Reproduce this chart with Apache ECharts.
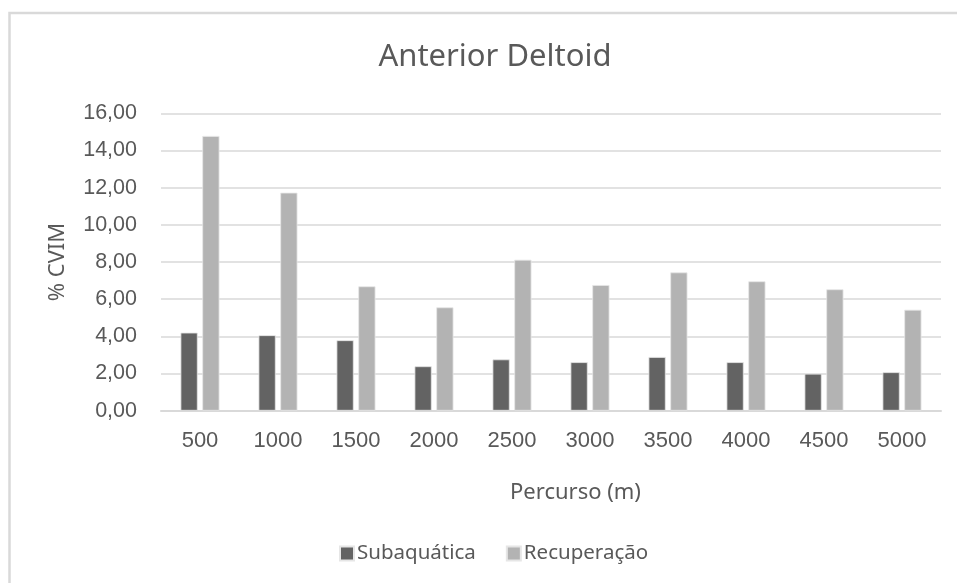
<!DOCTYPE html>
<html>
<head>
<meta charset="utf-8">
<script src="https://cdn.jsdelivr.net/npm/echarts@6/dist/echarts.min.js"></script>
<style>
  html, body { margin: 0; padding: 0; background: #ffffff; }
  #chart { width: 957px; height: 583px; }
</style>
</head>
<body>
<div id="chart"></div>
<script>
// Distance covered (m)
const distances = ['500', '1000', '1500', '2000', '2500', '3000', '3500', '4000', '4500', '5000'];
// %CVIM of the anterior deltoid per phase
const subaquatica = [4.20, 4.06, 3.79, 2.39, 2.76, 2.61, 2.89, 2.61, 1.99, 2.07];
const recuperacao = [14.78, 11.73, 6.69, 5.56, 8.12, 6.76, 7.44, 6.96, 6.53, 5.43];
const seriesNames = ['Subaquática', 'Recuperação'];

const textColor = '#595959';
const gridColor = '#d9d9d9';
const uiFont = '"Noto Sans", "Open Sans", sans-serif';
const numFont = '"Liberation Sans", Arial, sans-serif';

const chart = echarts.init(document.getElementById('chart'), null, { renderer: 'canvas' });

chart.setOption({
  animation: false,
  backgroundColor: '#ffffff',
  graphic: [{
    type: 'rect',
    shape: { x: 9.5, y: 13, width: 980, height: 600 },
    style: { fill: 'none', stroke: gridColor, lineWidth: 2.5 },
    silent: true,
    z: -1
  }],
  title: {
    text: 'Anterior Deltoid',
    left: 490,
    textAlign: 'center',
    top: 37,
    textStyle: { fontFamily: uiFont, fontSize: 31, fontWeight: 'normal', color: textColor }
  },
  legend: {
    data: seriesNames,
    top: 543,
    left: 339,
    padding: 0,
    itemWidth: 14,
    itemHeight: 14,
    itemGap: 30,
    icon: 'rect',
    textStyle: { fontFamily: uiFont, fontSize: 20.5, color: textColor, padding: [0, 0, 0, -2] }
  },
  grid: { left: 161, right: 16, top: 113.3, bottom: 172.3, containLabel: false },
  xAxis: {
    type: 'category',
    data: distances,
    name: 'Percurso (m)',
    nameLocation: 'middle',
    nameGap: 71,
    nameTextStyle: { fontFamily: uiFont, fontSize: 22, color: textColor, padding: [0, 0, 0, 49] },
    axisLine: { show: true, lineStyle: { color: gridColor, width: 2 } },
    axisTick: { show: false },
    axisLabel: { fontFamily: numFont, fontSize: 22, color: textColor, margin: 19 }
  },
  yAxis: {
    type: 'value',
    min: 0,
    max: 16,
    interval: 2,
    name: '% CVIM',
    nameLocation: 'middle',
    nameGap: 92,
    nameRotate: 90,
    nameTextStyle: { fontFamily: uiFont, fontSize: 22, color: textColor },
    axisLine: { show: false },
    axisTick: { show: false },
    splitLine: { lineStyle: { color: gridColor, width: 1.6 } },
    axisLabel: {
      fontFamily: numFont,
      fontSize: 21.5,
      color: textColor,
      margin: 24,
      formatter: v => v.toFixed(2).replace('.', ',')
    }
  },
  series: [
    {
      name: seriesNames[0],
      type: 'bar',
      data: subaquatica,
      barWidth: '22%',
      barGap: '27%',
      itemStyle: { color: '#636363', borderColor: '#e6e6e6', borderWidth: 0.8 }
    },
    {
      name: seriesNames[1],
      type: 'bar',
      data: recuperacao,
      barWidth: '22%',
      barGap: '27%',
      itemStyle: { color: '#b3b3b3', borderColor: '#e6e6e6', borderWidth: 0.8 }
    }
  ]
});
</script>
</body>
</html>
